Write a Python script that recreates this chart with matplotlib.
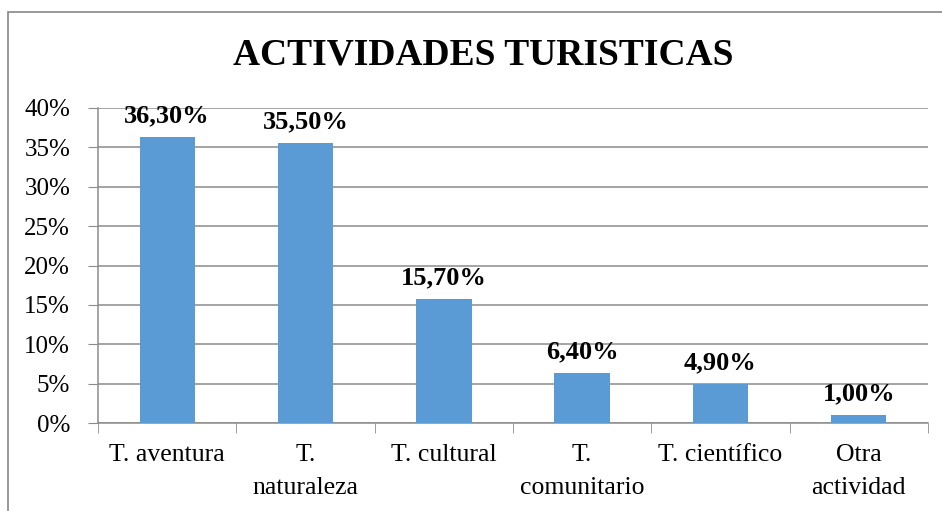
import matplotlib.pyplot as plt
from matplotlib.patches import Rectangle

# data
categories = ['T. aventura', 'T.\nnaturaleza', 'T. cultural', 'T.\ncomunitario',
              'T. científico', 'Otra\nactividad']
values = [36.3, 35.5, 15.7, 6.4, 4.9, 1.0]
labels = ['36,30%', '35,50%', '15,70%', '6,40%', '4,90%', '1,00%']
yticks = [0, 5, 10, 15, 20, 25, 30, 35, 40]

plt.rcParams['font.family'] = ['Liberation Serif', 'DejaVu Serif']

fig = plt.figure(figsize=(9.42, 5.11), dpi=100)
ax = fig.add_axes([98 / 942, 1 - 423 / 511, 830 / 942, 315 / 511])

# border around the chart area
fig.patches.append(Rectangle((8 / 942, -0.05), 1.05, 1 - 12 / 511 + 0.05,
                             transform=fig.transFigure, fill=False,
                             edgecolor='#888888', linewidth=1.2))

x = list(range(len(values)))
ax.bar(x, values, width=0.4, color='#5B9BD5', zorder=3)

for xi, v, lab in zip(x, values, labels):
    ax.annotate(lab, (xi, v), xytext=(0, 7), textcoords='offset points',
                ha='center', va='bottom', fontsize=19, fontweight='bold')

ax.set_xlim(-0.5, len(values) - 0.5)
ax.set_ylim(0, 40)
ax.set_yticks(yticks)
ax.set_yticklabels([f'{t}%' for t in yticks], fontsize=18)
ax.yaxis.grid(True, color='#8c8c8c', linewidth=1.1, zorder=0)
ax.tick_params(axis='y', length=7, color='#8c8c8c', pad=13)

ax.set_xticks(x)
ax.set_xticklabels(categories, fontsize=18.5, linespacing=1.65, va='top')
ax.tick_params(axis='x', length=0, pad=15)
# boundary tick marks between categories
ax.set_xticks([i - 0.5 for i in range(len(values) + 1)], minor=True)
ax.tick_params(axis='x', which='minor', length=7, color='#8c8c8c')

for s in ['top', 'right']:
    ax.spines[s].set_visible(False)
ax.spines['left'].set_color('#8c8c8c')
ax.spines['bottom'].set_color('#8c8c8c')
ax.spines['left'].set_linewidth(1.1)
ax.spines['bottom'].set_linewidth(1.1)

fig.text(483 / 942, 1 - 55 / 511, 'ACTIVIDADES TURISTICAS', ha='center',
         va='center', fontsize=27, fontweight='bold')

fig.savefig('out.png', dpi=100)
